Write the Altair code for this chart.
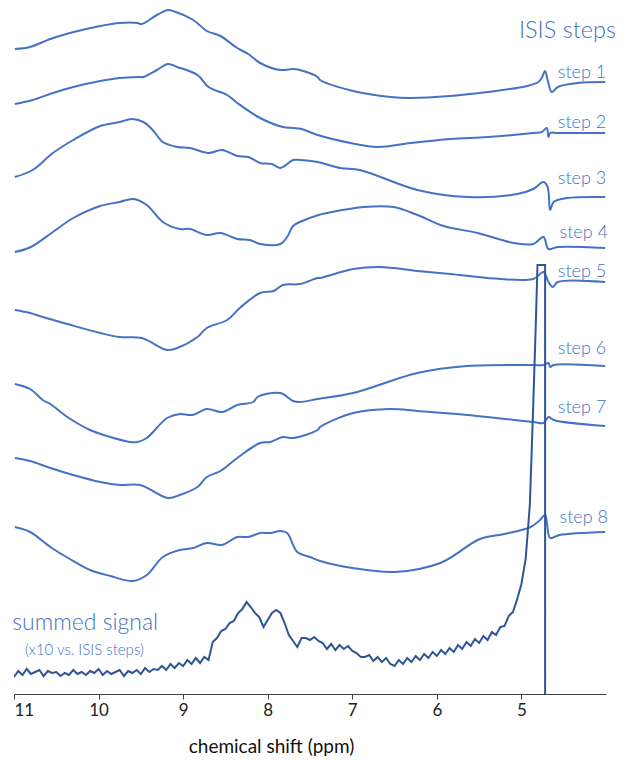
import altair as alt
import pandas as pd

# ---------------- data (ppm, intensity in arbitrary stacked units) ----------------
STEP1_PPM = [10.99, 10.81, 10.57, 10.34, 9.98, 9.75, 9.54, 9.49, 9.31, 9.18, 9.12, 8.88, 8.72, 8.56, 8.36, 8.23, 8.09, 7.85, 7.70, 7.62, 7.41, 7.38, 6.99, 6.55, 6.31, 5.84, 5.40, 4.93, 4.80, 4.76, 4.72, 4.69, 4.64, 4.57, 4.34, 4.01]
STEP1_Y = [645, 647, 655, 661, 668, 671, 671, 670, 679, 684, 683, 674, 663, 658, 646, 640, 631, 624, 625, 624, 617, 614, 603, 597, 596, 598, 602, 608, 612, 616, 623, 614, 602, 607, 611, 612]

STEP2_PPM = [10.99, 10.78, 10.54, 10.30, 9.98, 9.75, 9.53, 9.47, 9.31, 9.18, 9.07, 8.83, 8.70, 8.48, 8.36, 8.09, 7.82, 7.70, 7.60, 7.41, 7.02, 6.70, 6.31, 5.84, 5.40, 4.86, 4.76, 4.70, 4.68, 4.66, 4.57, 4.01]
STEP2_Y = [590, 594, 601, 607, 613, 616, 617, 617, 624, 630, 627, 619, 607, 599, 591, 576, 567, 566, 565, 559, 551, 547, 551, 555, 557, 561, 562, 566, 557, 561, 561, 561]

STEP3_PPM = [10.99, 10.78, 10.54, 10.30, 9.98, 9.75, 9.61, 9.47, 9.36, 9.24, 9.07, 8.92, 8.70, 8.54, 8.36, 8.23, 8.09, 7.95, 7.85, 7.70, 7.62, 7.41, 7.14, 6.91, 6.23, 5.64, 5.05, 4.86, 4.74, 4.69, 4.66, 4.62, 4.46, 4.01]
STEP3_Y = [517, 524, 541, 554, 568, 572, 575, 572, 564, 552, 547, 546, 541, 544, 538, 537, 531, 530, 526, 534, 534, 532, 526, 524, 504, 497, 500, 505, 512, 507, 484, 492, 496, 497]

STEP4_PPM = [10.99, 10.80, 10.54, 10.30, 9.98, 9.75, 9.59, 9.43, 9.24, 9.04, 8.92, 8.72, 8.56, 8.36, 8.21, 8.09, 7.85, 7.77, 7.70, 7.62, 7.40, 7.30, 6.87, 6.51, 6.23, 5.92, 5.52, 5.09, 4.86, 4.74, 4.68, 4.57, 4.01]
STEP4_Y = [442, 447, 462, 476, 488, 492, 495, 489, 472, 465, 465, 459, 461, 455, 454, 450, 450, 457, 468, 472, 479, 481, 487, 487, 479, 468, 461, 451, 450, 457, 445, 447, 446]

STEP5_PPM = [10.99, 10.81, 10.66, 10.37, 9.98, 9.75, 9.49, 9.19, 9.07, 8.83, 8.72, 8.48, 8.33, 8.09, 7.93, 7.82, 7.62, 7.41, 7.38, 6.99, 6.67, 6.23, 5.84, 5.40, 4.86, 4.74, 4.68, 4.63, 4.57, 4.01]
STEP5_Y = [384, 381, 377, 370, 361, 357, 356, 344, 346, 357, 366, 374, 386, 401, 403, 409, 410, 416, 416, 425, 427, 423, 420, 416, 415, 422, 412, 407, 412, 412]

STEP6_PPM = [10.99, 10.81, 10.66, 10.57, 10.37, 10.10, 9.90, 9.63, 9.54, 9.43, 9.19, 9.04, 8.89, 8.72, 8.54, 8.36, 8.17, 8.12, 7.85, 7.70, 7.62, 7.41, 6.99, 6.23, 5.64, 4.86, 4.74, 4.68, 4.66, 4.62, 4.01]
STEP6_Y = [310, 305, 294, 290, 277, 264, 258, 252, 252, 256, 276, 280, 279, 285, 282, 289, 292, 297, 301, 293, 292, 295, 301, 321, 328, 329, 329, 331, 327, 329, 328]

STEP7_PPM = [10.99, 10.81, 10.57, 10.30, 9.98, 9.75, 9.51, 9.18, 9.04, 8.83, 8.72, 8.56, 8.36, 8.09, 7.97, 7.82, 7.70, 7.41, 7.38, 6.99, 6.55, 6.23, 5.64, 4.86, 4.74, 4.68, 4.62, 4.01]
STEP7_Y = [236, 233, 226, 219, 212, 209, 209, 196, 199, 207, 217, 223, 236, 251, 252, 257, 256, 264, 267, 281, 285, 283, 279, 272, 271, 277, 274, 268]

STEP8_PPM = [10.99, 10.81, 10.57, 10.34, 10.10, 9.86, 9.59, 9.43, 9.24, 9.04, 8.88, 8.72, 8.54, 8.36, 8.23, 8.09, 7.97, 7.85, 7.77, 7.65, 7.50, 7.38, 7.00, 6.50, 5.96, 5.49, 5.20, 4.89, 4.78, 4.72, 4.66, 4.55, 4.01]
STEP8_Y = [167, 162, 147, 135, 124, 118, 113, 119, 137, 144, 146, 151, 149, 157, 157, 161, 161, 163, 161, 142, 137, 133, 126, 122, 131, 155, 160, 167, 174, 179, 156, 159, 162]

SUM_PPM = [11.00, 10.95, 10.90, 10.85, 10.80, 10.75, 10.70, 10.65, 10.60, 10.55, 10.50, 10.45, 10.40, 10.35, 10.30, 10.25, 10.20, 10.15, 10.10, 10.05,
           10.00, 9.95, 9.90, 9.85, 9.80, 9.75, 9.70, 9.65, 9.60, 9.55, 9.50, 9.45, 9.40, 9.35, 9.30, 9.25, 9.20, 9.15, 9.10, 9.05,
           9.00, 8.95, 8.90, 8.85, 8.80, 8.75, 8.70, 8.65, 8.60, 8.55, 8.50, 8.45, 8.40, 8.35, 8.30, 8.25, 8.20, 8.15, 8.10, 8.05,
           8.00, 7.95, 7.90, 7.85, 7.80, 7.75, 7.70, 7.65, 7.60, 7.55, 7.50, 7.45, 7.40, 7.35, 7.30, 7.25, 7.20, 7.15, 7.10, 7.05,
           7.00, 6.95, 6.90, 6.85, 6.80, 6.75, 6.70, 6.65, 6.60, 6.55, 6.50, 6.45, 6.40, 6.35, 6.30, 6.25, 6.20, 6.15, 6.10, 6.05,
           6.00, 5.95, 5.90, 5.85, 5.80, 5.75, 5.70, 5.65, 5.60, 5.55, 5.50, 5.45, 5.40, 5.35, 5.30, 5.25, 5.20, 5.15, 5.10, 5.05,
           5.00, 4.95, 4.90, 4.86, 4.83, 4.81, 4.72, 4.72]
SUM_Y = [17, 23, 19, 25, 20, 22, 24, 18, 23, 21, 22, 18, 21, 19, 24, 20, 22, 19, 23, 21,
         25, 19, 23, 20, 22, 24, 18, 23, 21, 24, 20, 26, 22, 25, 24, 28, 24, 30, 26, 31,
         28, 34, 30, 36, 31, 37, 34, 52, 56, 63, 65, 71, 73, 81, 85, 92, 87, 81, 77, 67,
         74, 81, 84, 81, 71, 59, 53, 47, 56, 56, 54, 57, 53, 51, 45, 50, 44, 49, 45, 48,
         43, 41, 37, 37, 39, 33, 37, 32, 36, 30, 28, 34, 30, 36, 32, 38, 34, 40, 36, 42,
         38, 44, 40, 46, 42, 49, 45, 52, 48, 55, 51, 58, 54, 62, 59, 67, 68, 78, 82, 95,
         110, 135, 190, 290, 370, 429, 429, 0]

STEP_NAMES = ["step 1", "step 2", "step 3", "step 4", "step 5", "step 6", "step 7", "step 8"]
STEP_LABEL_PPM = [4.57, 4.57, 4.57, 4.55, 4.57, 4.57, 4.57, 4.55]
STEP_LABEL_Y = [621, 571, 515, 461, 422, 345, 286, 176]

# ---------------- build tables ----------------
step_series = [(STEP1_PPM, STEP1_Y), (STEP2_PPM, STEP2_Y), (STEP3_PPM, STEP3_Y), (STEP4_PPM, STEP4_Y),
               (STEP5_PPM, STEP5_Y), (STEP6_PPM, STEP6_Y), (STEP7_PPM, STEP7_Y), (STEP8_PPM, STEP8_Y)]
rows = []
for name, (xs, ys) in zip(STEP_NAMES, step_series):
    for i, (x, y) in enumerate(zip(xs, ys)):
        rows.append({"series": name, "ppm": x, "val": y, "idx": i})
df_steps = pd.DataFrame(rows)
df_sum = pd.DataFrame({"ppm": SUM_PPM, "val": SUM_Y, "idx": list(range(len(SUM_PPM)))})
df_labels = pd.DataFrame({"text": STEP_NAMES, "ppm": STEP_LABEL_PPM, "val": STEP_LABEL_Y})

BLUE = "#4472C4"
DARK = "#2F5597"
FONT = "Lato"

x_scale = alt.Scale(domain=[4.0, 11.0], reverse=True, nice=False, zero=False)
y_scale = alt.Scale(domain=[0, 686], nice=False, zero=False)

x_axis = alt.Axis(values=[5, 6, 7, 8, 9, 10, 11], format="d", grid=False,
                  title="chemical shift (ppm)", titleFont=FONT, titleFontSize=19,
                  titleFontWeight="normal", titleColor="#111111", titleX=257, titleY=52,
                  titleBaseline="middle", titleAlign="center",
                  labelFont=FONT, labelFontSize=17, labelColor="#222222", labelPadding=3,
                  tickSize=5, tickColor="#404040", domainColor="#404040", domainWidth=1.2)

base_x = alt.X("ppm:Q", scale=x_scale, axis=x_axis)
base_y = alt.Y("val:Q", scale=y_scale, axis=None)

steps = alt.Chart(df_steps).mark_line(color=BLUE, strokeWidth=2, clip=True,
                                      interpolate="catmull-rom").encode(
    x=base_x, y=base_y, detail="series:N", order="idx:Q")

summed = alt.Chart(df_sum).mark_line(color=DARK, strokeWidth=2, clip=True).encode(
    x=alt.X("ppm:Q", scale=x_scale), y=alt.Y("val:Q", scale=y_scale), order="idx:Q")

labels = alt.Chart(df_labels).mark_text(align="left", baseline="middle", font=FONT,
                                        fontSize=18, fontWeight=300, color=BLUE).encode(
    x=alt.X("ppm:Q", scale=x_scale), y=alt.Y("val:Q", scale=y_scale), text="text:N")

df_titles = pd.DataFrame({"text": ["ISIS steps", "summed signal", "(x10 vs. ISIS steps)"],
                          "ppm": [5.03, 11.02, 10.87], "val": [663, 71, 44],
                          "size": [23.5, 23, 15]})
titles = alt.Chart(df_titles).mark_text(align="left", baseline="middle", font=FONT,
                                        fontWeight=300, color=BLUE).encode(
    x=alt.X("ppm:Q", scale=x_scale), y=alt.Y("val:Q", scale=y_scale), text="text:N",
    size=alt.Size("size:Q", scale=None, legend=None))

chart = alt.layer(steps, summed, labels, titles).properties(
    width=592, height=686,
    autosize=alt.AutoSizeParams(type="none"),
    padding={"left": 6, "top": 0, "right": 16, "bottom": 64},
).configure_view(stroke=None)

chart.save("out.html", embed_options={"renderer": "svg", "actions": False})
